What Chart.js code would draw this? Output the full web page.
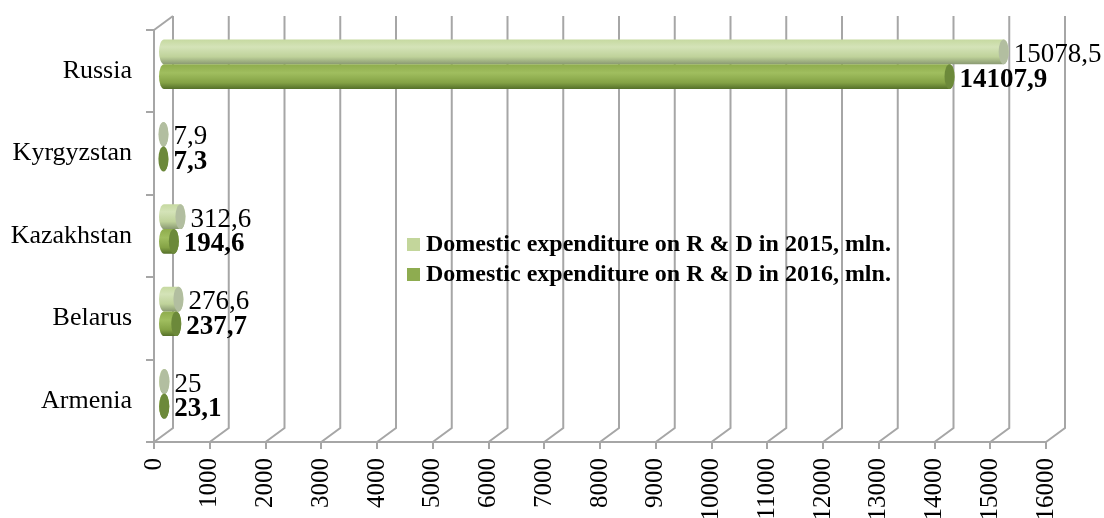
<!DOCTYPE html>
<html>
<head>
<meta charset="utf-8">
<script src="https://cdn.jsdelivr.net/npm/chart.js@4.4.1/dist/chart.umd.min.js"></script>
<style>
  body { margin: 0; background: #fff; }
  #wrap { width: 1104px; height: 518px; }
</style>
</head>
<body>
<div id="wrap"><canvas id="myChart" width="1104" height="518"></canvas></div>
<script>
const categories = ["Russia", "Kyrgyzstan", "Kazakhstan", "Belarus", "Armenia"];
const values2015 = [15078.5, 7.9, 312.6, 276.6, 25];
const values2016 = [14107.9, 7.3, 194.6, 237.7, 23.1];
const seriesNames = [
  "Domestic expenditure on R & D in 2015, mln.",
  "Domestic expenditure on R & D in 2016, mln.",
];
const xMin = 0;
const xMax = 16000;
const xStep = 1000;

const ctx = document.querySelector("#myChart");
const gridColor = "#a6a6a6";
const serif = "'Liberation Serif', 'Times New Roman', serif";

// 3d depth of the back wall and of the bars
const wallDx = 19, wallDy = -14;
const barDx = 9, barDy = -7;

const looks = [
  {
    stops: [[0, "#c6d9a0"], [0.3, "#d4e3b8"], [0.7, "#bfd29a"], [1, "#8a9a72"]],
    cap: "#b2bea0",
    legend: "#c3d69b",
    bold: false,
  },
  {
    stops: [[0, "#8eac4c"], [0.35, "#a0be5f"], [0.75, "#84a245"], [1, "#55702a"]],
    cap: "#6c893a",
    legend: "#8eac50",
    bold: true,
  },
];

function fmt(v) {
  return v.toString().replace(".", ",");
}

const wallPlugin = {
  id: "wall",
  beforeDatasetsDraw(chart) {
    const c = chart.ctx;
    const area = chart.chartArea;
    const xs = chart.scales.x;
    c.save();
    c.strokeStyle = gridColor;
    c.lineWidth = 2;
    xs.ticks.forEach((t) => {
      const xf = xs.getPixelForValue(t.value);
      c.beginPath();
      c.moveTo(xf, area.bottom);
      c.lineTo(xf + wallDx, area.bottom + wallDy);
      c.lineTo(xf + wallDx, area.top + wallDy);
      c.stroke();
    });
    c.beginPath();
    c.moveTo(area.left, area.top);
    c.lineTo(area.left + wallDx, area.top + wallDy);
    c.stroke();
    c.restore();
  },
  beforeDatasetDraw() {
    return false; // bars are drawn as cylinders below
  },
  afterDatasetsDraw(chart) {
    const c = chart.ctx;
    c.save();
    c.translate(barDx, barDy);
    chart.data.datasets.forEach((ds, i) => {
      const meta = chart.getDatasetMeta(i);
      const look = looks[i];
      meta.data.forEach((el, j) => {
        const h = el.height;
        const top = el.y - h / 2;
        const rx = 5;
        const ry = h / 2;
        const g = c.createLinearGradient(0, top, 0, top + h);
        look.stops.forEach((s) => g.addColorStop(s[0], s[1]));
        // body
        c.beginPath();
        c.ellipse(el.base, el.y, rx, ry, 0, Math.PI / 2, Math.PI * 1.5);
        c.lineTo(el.x, top);
        c.ellipse(el.x, el.y, rx, ry, 0, -Math.PI / 2, Math.PI / 2);
        c.closePath();
        c.fillStyle = g;
        c.fill();
        // end face
        c.beginPath();
        c.ellipse(el.x, el.y, rx, ry, 0, 0, Math.PI * 2);
        c.fillStyle = look.cap;
        c.fill();
        // value label
        c.fillStyle = "#000";
        c.font = (look.bold ? "bold " : "") + "27px " + serif;
        c.textAlign = "left";
        c.textBaseline = "middle";
        c.fillText(fmt(ds.data[j]), el.x + rx + 5, el.y + 3);
      });
    });
    c.restore();
  },
  afterDraw(chart) {
    const c = chart.ctx;
    c.save();
    c.font = "bold 24px " + serif;
    c.textAlign = "left";
    c.textBaseline = "middle";
    chart.data.datasets.forEach((ds, i) => {
      const y = 245 + i * 30;
      c.fillStyle = looks[i].legend;
      c.fillRect(407, y - 7, 13, 13);
      c.fillStyle = "#000";
      c.fillText(ds.label, 426, y);
    });
    c.restore();
  },
};

new Chart(ctx, {
  type: "bar",
  data: {
    labels: categories,
    datasets: [
      { label: seriesNames[0], data: values2015, backgroundColor: looks[0].legend },
      { label: seriesNames[1], data: values2016, backgroundColor: looks[1].legend },
    ],
  },
  options: {
    indexAxis: "y",
    responsive: false,
    animation: false,
    categoryPercentage: 0.6,
    barPercentage: 1,
    layout: { padding: { left: 0, top: 30, right: 58, bottom: 0 } },
    plugins: {
      legend: { display: false },
      tooltip: { enabled: false },
    },
    scales: {
      x: {
        min: xMin,
        max: xMax,
        afterFit(scale) {
          scale.height = 76;
        },
        border: { display: true, color: gridColor, width: 2 },
        grid: {
          drawOnChartArea: false,
          drawTicks: true,
          tickLength: 7,
          color: gridColor,
          lineWidth: 2,
        },
        ticks: {
          stepSize: xStep,
          autoSkip: false,
          minRotation: 90,
          maxRotation: 90,
          padding: 9,
          color: "#000",
          font: { family: serif, size: 25 },
          callback: (v) => String(v),
        },
      },
      y: {
        afterFit(scale) {
          scale.width = 154;
        },
        border: { display: true, color: gridColor, width: 2 },
        grid: {
          offset: true,
          drawOnChartArea: false,
          drawTicks: true,
          tickLength: 8,
          color: gridColor,
          lineWidth: 2,
        },
        ticks: {
          padding: 14,
          color: "#000",
          font: { family: serif, size: 26 },
        },
      },
    },
  },
  plugins: [wallPlugin],
});
</script>
</body>
</html>
